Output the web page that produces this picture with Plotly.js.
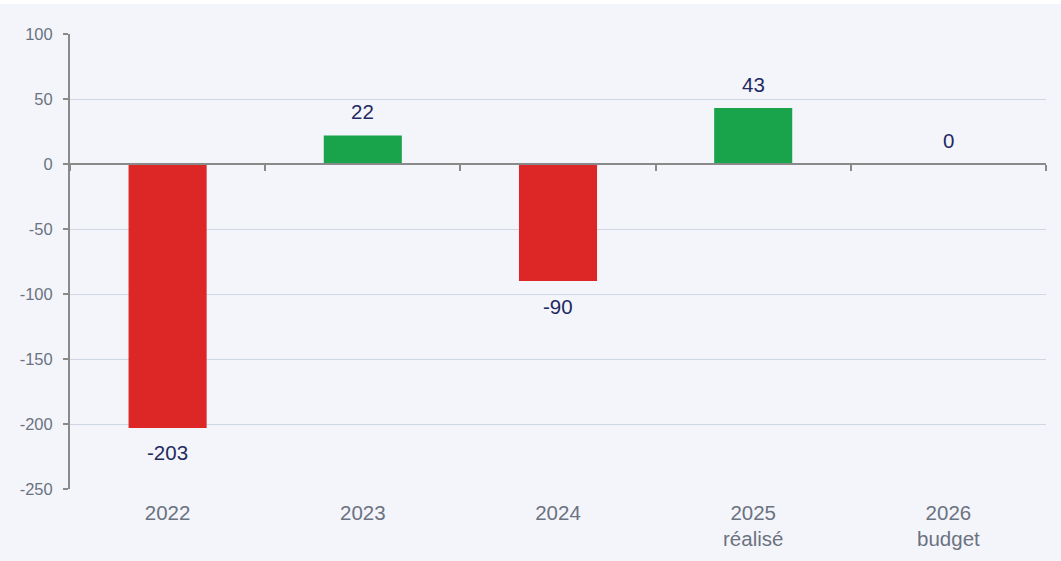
<!DOCTYPE html>
<html>
<head>
<meta charset="utf-8">
<script src="https://cdn.plot.ly/plotly-3.0.1.min.js"></script>
<style>
  html, body { margin: 0; padding: 0; background: #ffffff; }
  #chart { position: absolute; left: 0; top: 4px; width: 1061px; height: 557px; }
</style>
</head>
<body>
<div id="chart"></div>
<script>
const categories = ["2022", "2023", "2024", "2025", "2026"];
const tickLabels = ["2022", "2023", "2024", "2025<br>réalisé", "2026<br>budget"];
const values = [-203, 22, -90, 43, 0];
const yTicks = [100, 50, 0, -50, -100, -150, -200, -250];

const RED = "#dd2626";
const GREEN = "#19a44b";
const NAVY = "#1f2a62";
const GREY_TXT = "#6b7280";
const AXIS = "#8a8a8a";
const GRID = "#cfd6e6";
const BG = "#f4f5fb";
const FONT = "Arial, 'Liberation Sans', sans-serif";

const barTrace = {
  type: "bar",
  x: categories,
  y: values,
  xaxis: "x",
  yaxis: "y",
  width: 0.4,
  marker: { color: values.map(v => v < 0 ? RED : GREEN) },
  hoverinfo: "x+y",
  cliponaxis: false
};

const axisTrace = {
  type: "scatter",
  mode: "markers",
  x: categories,
  y: values,
  xaxis: "x2",
  yaxis: "y",
  marker: { opacity: 0 },
  hoverinfo: "skip",
  showlegend: false
};

const annotations = categories.map((c, i) => ({
  x: i,
  y: values[i],
  xref: "x",
  yref: "y",
  text: String(values[i]),
  showarrow: false,
  yshift: values[i] < 0 ? -25 : 24,
  font: { family: FONT, size: 20.5, color: NAVY }
}));

const yMin = -250, yMax = 100;

const layout = {
  width: 1061,
  height: 557,
  margin: { l: 70, r: 15, t: 30, b: 72, pad: 0 },
  paper_bgcolor: BG,
  plot_bgcolor: BG,
  showlegend: false,
  font: { family: FONT, color: GREY_TXT },
  xaxis: {
    type: "category",
    range: [-0.5, 4.5],
    tickvals: categories,
    ticktext: tickLabels,
    showline: false,
    showgrid: false,
    zeroline: false,
    ticks: "",
    ticklabelstandoff: 9,
    tickfont: { family: FONT, size: 20.5, color: GREY_TXT }
  },
  xaxis2: {
    type: "category",
    overlaying: "x",
    anchor: "free",
    position: (0 - yMin) / (yMax - yMin),
    range: [-0.5, 4.5],
    showline: true,
    linecolor: AXIS,
    linewidth: 2,
    ticks: "outside",
    tickson: "boundaries",
    ticklen: 6,
    tickwidth: 2,
    tickcolor: AXIS,
    showgrid: false,
    zeroline: false,
    showticklabels: false
  },
  yaxis: {
    range: [yMin, yMax],
    tickvals: yTicks,
    ticktext: yTicks.map(String),
    showline: true,
    linecolor: AXIS,
    linewidth: 2,
    ticks: "outside",
    ticklen: 5,
    tickwidth: 2,
    tickcolor: AXIS,
    showgrid: true,
    gridcolor: GRID,
    gridwidth: 1,
    zeroline: false,
    tickfont: { family: FONT, size: 16.5, color: GREY_TXT },
    ticklabelstandoff: 7
  },
  annotations: annotations
};

Plotly.newPlot("chart", [barTrace, axisTrace], layout, { displayModeBar: false, staticPlot: true });
</script>
</body>
</html>
